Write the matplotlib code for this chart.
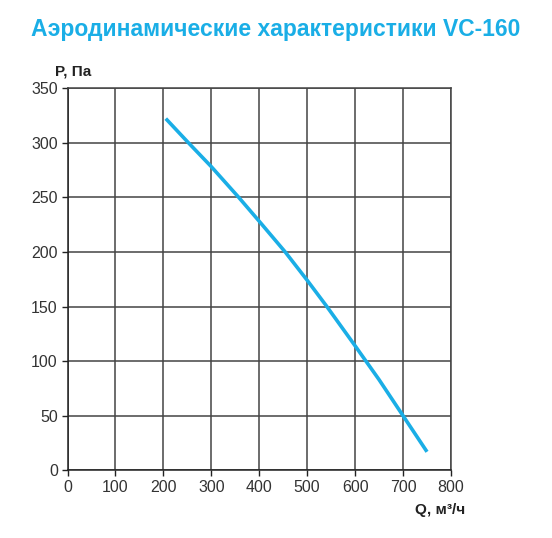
import matplotlib.pyplot as plt

plt.rcParams['font.family'] = ['Liberation Sans', 'DejaVu Sans']

# curve
q = [205, 252, 300, 357, 400, 454, 500, 541, 600, 650, 700, 750]
p = [322, 300, 278, 250, 228, 200, 174, 150, 114, 83, 50, 17]

x_ticks = [0, 100, 200, 300, 400, 500, 600, 700, 800]
y_ticks = [0, 50, 100, 150, 200, 250, 300, 350]

blue = '#1aaee6'

fig = plt.figure(figsize=(5.52, 5.38), dpi=100)
ax = fig.add_axes([0.1223, 0.1257, 0.6947, 0.7107])

ax.plot(q, p, color=blue, lw=2.6, solid_capstyle='butt',
        solid_joinstyle='round', zorder=3)

ax.set_xlim(0, 800)
ax.set_ylim(0, 350)
ax.set_xticks(x_ticks)
ax.set_yticks(y_ticks)
ax.grid(True, color='#444444', lw=1.1)
ax.set_axisbelow(True)
for s in ax.spines.values():
    s.set_color('#444444')
    s.set_linewidth(1.1)
ax.spines['left'].set_color('#222222')
ax.spines['bottom'].set_color('#222222')
ax.tick_params(direction='out', length=4, width=1, colors='#222222',
               labelsize=11.5, labelcolor='#333333', pad=3)

fig.text(0.5, 0.945, 'Аэродинамические характеристики VC-160',
         ha='center', va='center', color=blue, fontsize=16.5, fontweight='bold')
fig.text(0.1, 0.868, 'P, Па', ha='left', va='center', fontsize=11,
         fontweight='bold', color='#222222')
fig.text(0.843, 0.052, 'Q, м³/ч', ha='right', va='center', fontsize=11,
         fontweight='bold', color='#222222')

fig.savefig('out.png', dpi=100)
